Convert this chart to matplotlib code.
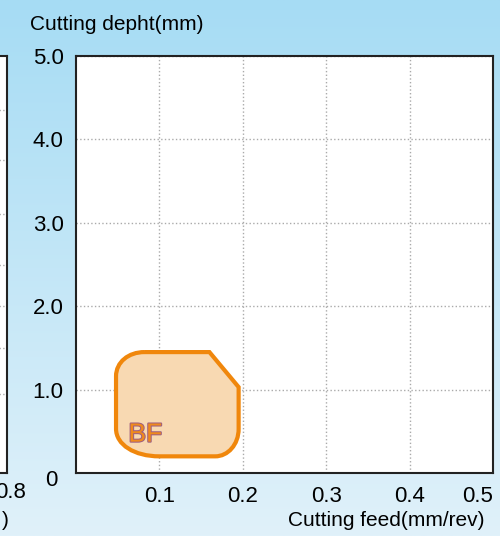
import numpy as np
import matplotlib.pyplot as plt
from matplotlib.path import Path
from matplotlib.patches import PathPatch
import matplotlib.patheffects as pe

plt.rcParams['font.family'] = ['Liberation Sans', 'DejaVu Sans']

# chart data
x_ticks = [0.1, 0.2, 0.3, 0.4, 0.5]
x_labels = ["0.1", "0.2", "0.3", "0.4", "0.5"]
y_ticks = [1.0, 2.0, 3.0, 4.0, 5.0]
y_labels = ["1.0", "2.0", "3.0", "4.0", "5.0"]

# BF chipbreaker area outline (feed mm/rev, depth mm), rounded corners as cubic curves
bf_feed = [0.082, 0.160, 0.195, 0.195, 0.195, 0.182, 0.167, 0.100, 0.070, 0.048, 0.048,
           0.048, 0.048, 0.063, 0.082]
bf_depth = [1.45, 1.45, 1.03, 0.53, 0.34, 0.20, 0.20, 0.20, 0.20, 0.34, 0.53,
            1.16, 1.33, 1.45, 1.45]
bf_codes = [Path.MOVETO, Path.LINETO, Path.LINETO, Path.LINETO,
            Path.CURVE4, Path.CURVE4, Path.CURVE4, Path.LINETO,
            Path.CURVE4, Path.CURVE4, Path.CURVE4, Path.LINETO,
            Path.CURVE4, Path.CURVE4, Path.CURVE4]
bf_name = "BF"
bf_label_pos = (0.083, 0.46)

fig = plt.figure(figsize=(5.0, 5.36), dpi=100)

# background gradient
bg = fig.add_axes([0, 0, 1, 1], zorder=-10)
top = np.array([166, 220, 244]) / 255
bot = np.array([224, 241, 250]) / 255
t = np.linspace(0, 1, 256)[:, None]
grad = (top[None, :] * (1 - t) + bot[None, :] * t)[:, None, :]
bg.imshow(grad, aspect='auto', extent=[0, 1, 0, 1])
bg.axis('off')

# neighbouring chart, cut off at the left edge
axl = fig.add_axes([-0.2, 0.1175, 0.214, 0.778])
axl.set_xlim(0, 1)
axl.set_ylim(0, 1)
axl.set_yticks([0.19, 0.30, 0.40, 0.50, 0.62, 0.75, 0.87])
axl.set_xticks([])
axl.tick_params(left=False, labelleft=False)
axl.grid(axis='y', linestyle=':', color='#aaaaaa', linewidth=1)
for s in axl.spines.values():
    s.set_color('#222222')
    s.set_linewidth(1.5)
fig.text(0.052, 1 - 493 / 536, "0.8", ha='right', va='center', fontsize=16)
fig.text(0.018, 1 - 521 / 536, ")", ha='right', va='center', fontsize=15)

# main chart
ax = fig.add_axes([0.152, 0.1175, 0.834, 0.778])
ax.set_xlim(0, 0.497)
ax.set_ylim(0, 5.0)
ax.set_xticks(x_ticks)
ax.set_xticklabels(x_labels, fontsize=16)
ax.set_yticks(y_ticks)
ax.set_yticklabels(y_labels, fontsize=16)
ax.get_xticklabels()[-1].set_ha('right')
ax.tick_params(length=0, pad=9)
ax.grid(True, linestyle=':', color='#aaaaaa', linewidth=1)
ax.set_axisbelow(True)
for s in ax.spines.values():
    s.set_color('#222222')
    s.set_linewidth(1.5)
ax.text(-0.045, -0.018, "0", transform=ax.transAxes, ha='right', va='center', fontsize=16)

path = Path(np.column_stack([bf_feed, bf_depth]), bf_codes)
ax.add_patch(PathPatch(path, facecolor='#f8d9b2', edgecolor='#f0870c', linewidth=3, zorder=3))
ax.text(bf_label_pos[0], bf_label_pos[1], bf_name, ha='center', va='center', fontsize=19,
        color='#f08a1c', zorder=4,
        path_effects=[pe.withStroke(linewidth=1.5, foreground='#a06080')])

fig.text(30 / 500, 1 - 24 / 536, "Cutting depht(mm)", ha='left', va='center', fontsize=15)
fig.text(484 / 500, 1 - 521 / 536, "Cutting feed(mm/rev)", ha='right', va='center', fontsize=15)

fig.savefig("out.png", dpi=100)
